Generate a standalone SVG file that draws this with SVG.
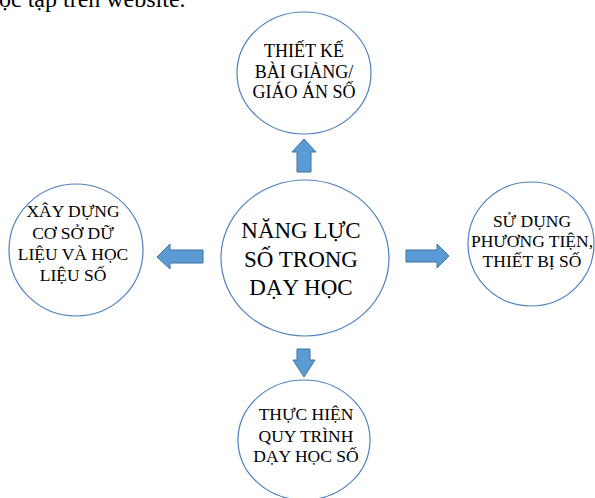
<svg xmlns="http://www.w3.org/2000/svg" width="595" height="498" viewBox="0 0 595 498">
<style>
.node ellipse{fill:#ffffff;stroke:#4f81bd;stroke-width:1.2}
.node text{font-family:"Liberation Serif","Times New Roman",serif;fill:#000;text-anchor:middle;font-size:17.5px}
.node.center text{font-size:23px}
.arrow{fill:#5b9bd5;stroke:#41719c;stroke-width:1}
.top{font-family:"Liberation Serif","Times New Roman",serif;font-size:24px;fill:#000}
</style>
<rect width="595" height="498" fill="#ffffff"/>
<text class="top" x="-1" y="7">ọc tập trên website.</text>
<g id="node-top" class="node">
<ellipse cx="304" cy="73" rx="67" ry="61"/>
<text x="304" y="57" font-size="18" style="font-size:18px">THIẾT KẾ</text>
<text x="304" y="77.5" style="font-size:18px">BÀI GIẢNG/</text>
<text x="304" y="98" style="font-size:18px">GIÁO ÁN SỐ</text>
</g>
<g id="node-left" class="node">
<ellipse cx="76" cy="250" rx="67" ry="66"/>
<text x="73" y="217">XÂY DỰNG</text>
<text x="73" y="239">CƠ SỞ DỮ</text>
<text x="73" y="260">LIỆU VÀ HỌC</text>
<text x="73" y="281">LIỆU SỐ</text>
</g>
<g id="node-center" class="node center">
<ellipse cx="305" cy="258" rx="84" ry="78"/>
<text x="301" y="238">NĂNG LỰC</text>
<text x="301" y="267">SỐ TRONG</text>
<text x="301" y="295">DẠY HỌC</text>
</g>
<g id="node-right" class="node">
<ellipse cx="531" cy="244" rx="63" ry="62"/>
<text x="532" y="227">SỬ DỤNG</text>
<text x="532" y="247">PHƯƠNG TIỆN,</text>
<text x="532" y="267">THIẾT BỊ SỐ</text>
</g>
<g id="node-bottom" class="node">
<ellipse cx="304" cy="440" rx="66" ry="60"/>
<text x="306" y="420">THỰC HIỆN</text>
<text x="306" y="442">QUY TRÌNH</text>
<text x="306" y="462">DẠY HỌC SỐ</text>
</g>
<g id="connectors">
<polygon class="arrow" points="304,139 316,152 311,152 311,172 297,172 297,152 292,152"/>
<polygon class="arrow" points="157,257 170,244 170,250 203,250 203,263 170,263 170,269"/>
<polygon class="arrow" points="449,256 437,244 437,250 406,250 406,262 437,262 437,268"/>
<polygon class="arrow" points="304,377 315,360 310,360 310,349 297,349 297,360 293,360"/>
</g>
</svg>
